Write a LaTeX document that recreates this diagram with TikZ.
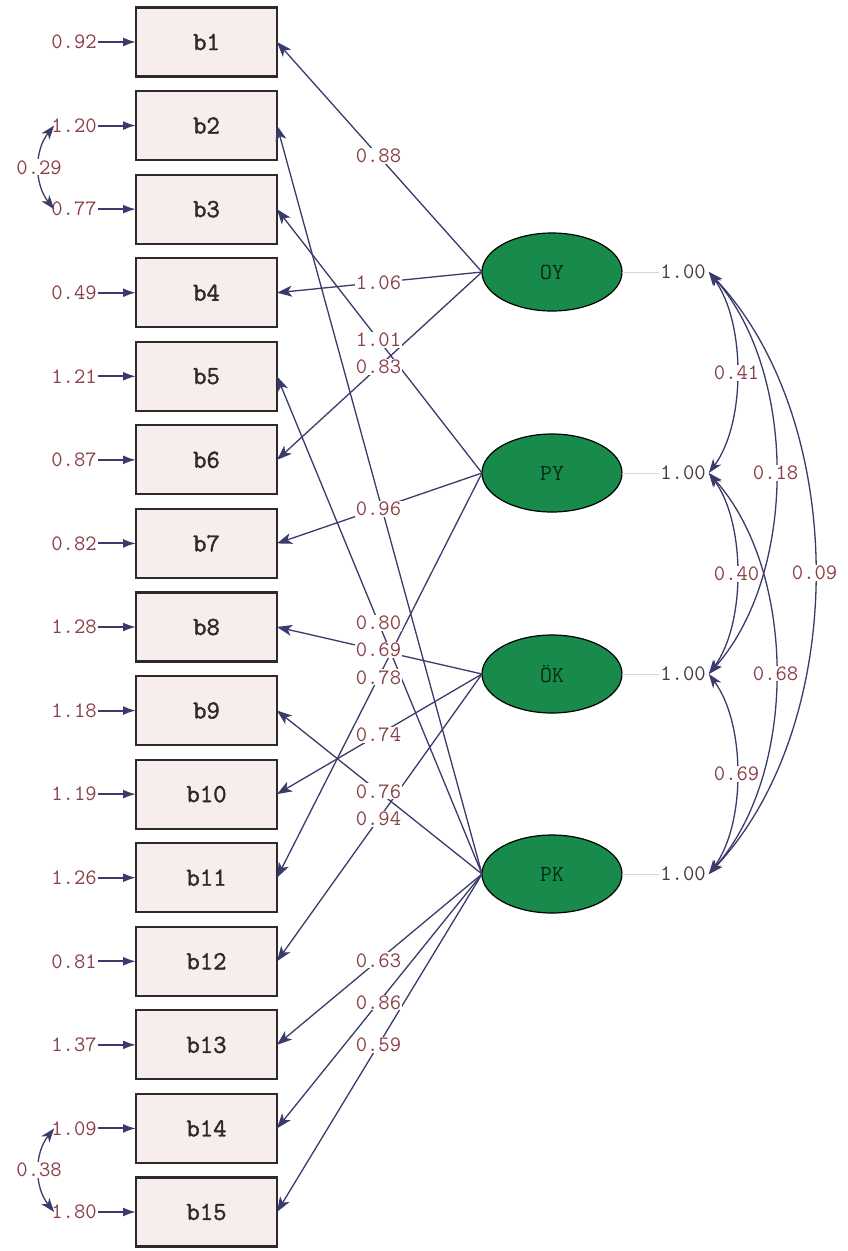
\documentclass[tikz,border=0pt]{standalone}
\usepackage{fontspec}
\newfontfamily\boxfont{Latin Modern Mono}[FakeBold=1.6]
\usetikzlibrary{arrows.meta,shapes.geometric}
\definecolor{pathcol}{HTML}{3A3A6C}
\definecolor{numcol}{HTML}{8A4048}
\definecolor{varcol}{HTML}{4A3838}
\definecolor{boxfill}{HTML}{F7EDED}
\definecolor{boxline}{HTML}{2E2A2A}
\definecolor{latfill}{HTML}{178A4C}
\definecolor{faintcol}{HTML}{D8D8D8}
\tikzset{
  obs/.style={rectangle,draw=boxline,fill=boxfill,line width=2.2pt,
    minimum width=141pt,minimum height=69pt,outer sep=0pt,
    font=\boxfont\fontsize{26}{26}\selectfont,text=boxline},
  lat/.style={ellipse,draw=black,fill=latfill,line width=1.2pt,
    minimum width=140pt,minimum height=78pt,outer sep=0pt,inner sep=0pt,
    font=\ttfamily\fontsize{23}{23}\selectfont,text=black!70!latfill},
  num/.style={fill=white,inner sep=1pt,text=numcol,
    font=\ttfamily\fontsize{22}{22}\selectfont},
  errlab/.style={inner sep=1pt,text=numcol,
    font=\ttfamily\fontsize{22}{22}\selectfont},
  varlab/.style={inner sep=1pt,text=varcol,
    font=\ttfamily\fontsize{22}{22}\selectfont},
  load/.style={draw=pathcol,line width=1.3pt,
    -{Stealth[length=15pt,width=11pt,inset=4pt]}},
  errarrow/.style={draw=pathcol,line width=2pt,
    -{Latex[length=13pt,width=9pt]}},
  cov/.style={draw=pathcol,line width=1.3pt,
    {Stealth[length=14pt,width=10pt,inset=4pt]}-{Stealth[length=14pt,width=10pt,inset=4pt]}},
  faint/.style={draw=faintcol,line width=0.8pt},
}
\begin{document}
\begin{tikzpicture}[x=1pt,y=-1pt]
\useasboundingbox[fill=white] (0,0) rectangle (848,1251);

% observed indicators with their error variances
\foreach \i/\e in {1/0.92,2/1.20,3/0.77,4/0.49,5/1.21,6/0.87,7/0.82,8/1.28,
                   9/1.18,10/1.19,11/1.26,12/0.81,13/1.37,14/1.09,15/1.80}{
  \node[obs] (b\i) at (206.5,{42+(\i-1)*83.57}) {b\i};
  \node[errlab] (e\i) at (74,{42+(\i-1)*83.57}) {\e};
  \draw[errarrow] (e\i) -- (b\i);
}

% latent factors
\node[lat] (OY) at (552,272) {OY};
\node[lat] (PY) at (552,473) {PY};
\node[lat] (OK) at (552,674) {ÖK};
\node[lat] (PK) at (552,874) {PK};

% factor variances
\foreach \f/\n in {OY/1,PY/2,OK/3,PK/4}{
  \node[varlab] (v\n) at ([xshift=131pt]\f.center) {1.00};
  \draw[faint] (\f.east) -- (v\n.west);
}

% factor loadings: lines first, values on top
\foreach \f/\b in {OY/1,OY/4,OY/6,PY/3,PY/7,PY/11,OK/8,OK/10,OK/12,
                   PK/2,PK/5,PK/9,PK/13,PK/14,PK/15}{
  \draw[load] (\f.west) -- (b\b.east);
}
\foreach \f/\b/\v in {OY/1/0.88,OY/4/1.06,OY/6/0.83,PY/3/1.01,PY/7/0.96,
                      PY/11/0.78,OK/8/0.69,OK/10/0.74,OK/12/0.94,PK/5/0.80,
                      PK/9/0.76,PK/13/0.63,PK/14/0.86,PK/15/0.59}{
  \path (\f.west) -- node[num,pos=0.505] {\v} (b\b.east);
}

% factor covariances
\draw[cov] ([xshift=2pt]v1.east) .. controls +(37,50) and +(37,-50) .. coordinate[pos=0.5] (m12) ([xshift=2pt]v2.east);
\draw[cov] ([xshift=2pt]v2.east) .. controls +(37,50) and +(37,-50) .. coordinate[pos=0.5] (m23) ([xshift=2pt]v3.east);
\draw[cov] ([xshift=2pt]v3.east) .. controls +(37,50) and +(37,-50) .. coordinate[pos=0.5] (m34) ([xshift=2pt]v4.east);
\draw[cov] ([xshift=2pt]v1.east) .. controls +(89,100) and +(89,-100) .. coordinate[pos=0.5] (m13) ([xshift=2pt]v3.east);
\draw[cov] ([xshift=2pt]v2.east) .. controls +(89,100) and +(89,-100) .. coordinate[pos=0.5] (m24) ([xshift=2pt]v4.east);
\draw[cov] ([xshift=2pt]v1.east) .. controls +(141,150) and +(141,-150) .. coordinate[pos=0.5] (m14) ([xshift=2pt]v4.east);
\node[num] at (m12) {0.41};
\node[num] at (m23) {0.40};
\node[num] at (m34) {0.69};
\node[num] at (m13) {0.18};
\node[num] at (m24) {0.68};
\node[num] at (m14) {0.09};

% correlated errors
\draw[cov] ([xshift=4pt]e2.west) .. controls +(-20,25) and +(-20,-25) .. coordinate[pos=0.5] (n23) ([xshift=4pt]e3.west);
\draw[cov] ([xshift=4pt]e14.west) .. controls +(-20,25) and +(-20,-25) .. coordinate[pos=0.5] (n1415) ([xshift=4pt]e15.west);
\node[num] at (n23) {0.29};
\node[num] at (n1415) {0.38};
\end{tikzpicture}
\end{document}
